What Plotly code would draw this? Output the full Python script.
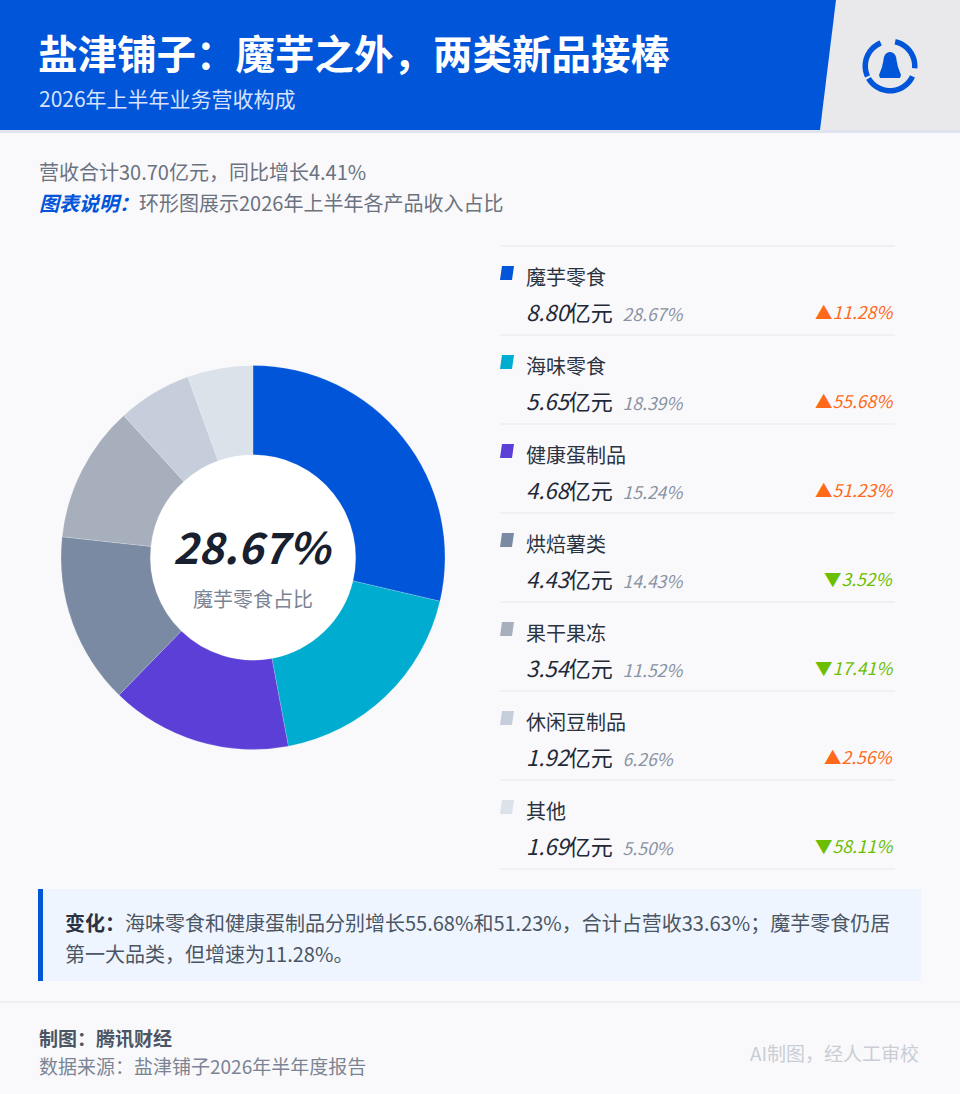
import numpy as np
import plotly.graph_objects as go

W, H = 960, 1094

categories = ["魔芋零食", "海味零食", "健康蛋制品", "烘焙薯类", "果干果冻", "休闲豆制品", "其他"]
revenue = [8.80, 5.65, 4.68, 4.43, 3.54, 1.92, 1.69]          # 亿元
share = [28.67, 18.39, 15.24, 14.43, 11.52, 6.26, 5.50]       # %
growth = [11.28, 55.68, 51.23, -3.52, -17.41, 2.56, -58.11]   # % YoY
colors = ["#0055d9", "#00acd0", "#5b3fd6", "#7a8aa3", "#a8afbc", "#c7cedb", "#dce2ea"]

title = "盐津铺子：魔芋之外，两类新品接棒"
subtitle = "2026年上半年业务营收构成"
summary = "营收合计30.70亿元，同比增长4.41%"
note_label = "图表说明："
note_text = "环形图展示2026年上半年各产品收入占比"
change_label = "变化："
change_line1 = "海味零食和健康蛋制品分别增长55.68%和51.23%，合计占营收33.63%；魔芋零食仍居"
change_line2 = "第一大品类，但增速为11.28%。"
credit = "制图：腾讯财经"
source = "数据来源：盐津铺子2026年半年度报告"
ai_note = "AI制图，经人工审校"

FONT = "Noto Sans CJK SC"


def X(px):
    return px / W


def Y(py):
    return 1 - py / H


def path(points):
    return "M" + " L".join(f"{X(a):.5f},{Y(b):.5f}" for a, b in points) + " Z"


shapes = []
annotations = []


def ann(text, x, y, size, color, xanchor="left", yanchor="middle", family=FONT):
    annotations.append(dict(text=text, x=X(x), y=Y(y), xref="paper", yref="paper",
                            xanchor=xanchor, yanchor=yanchor, showarrow=False,
                            font=dict(size=size, color=color, family=family)))


# header
shapes.append(dict(type="rect", x0=0, x1=1, y0=Y(130), y1=1, xref="paper", yref="paper",
                   fillcolor="#e9e9ec", line_width=0, layer="below"))
shapes.append(dict(type="path", path=path([(0, 0), (836, 0), (820, 130), (0, 130)]),
                   xref="paper", yref="paper", fillcolor="#0055d9", line_width=0, layer="below"))
shapes.append(dict(type="rect", x0=0, x1=1, y0=Y(133), y1=Y(130), xref="paper", yref="paper",
                   fillcolor="#dfe5f0", line_width=0, layer="below"))

# logo: three arcs + penguin
cx, cy = 890, 66


def arc(a0, a1, r0, r1):
    t = np.radians(np.linspace(a0, a1, 30))
    outer = [(cx + r1 * np.cos(v), cy - r1 * np.sin(v)) for v in t]
    inner = [(cx + r0 * np.cos(v), cy - r0 * np.sin(v)) for v in t[::-1]]
    return path(outer + inner)


for a0, a1 in [(112, 205), (78, -5), (-25, -150)]:
    shapes.append(dict(type="path", path=arc(a0, a1, 22, 27.5), xref="paper", yref="paper",
                       fillcolor="#0055d9", line_width=0))
peng = [(890 + 6.5 * np.cos(v), 60 - 8 * np.sin(v)) for v in np.radians(np.linspace(0, 180, 20))]
peng += [(882, 67), (879, 75), (880, 78), (900, 78), (901, 75), (898, 67)]
shapes.append(dict(type="path", path=path(peng), xref="paper", yref="paper",
                   fillcolor="#0055d9", line_width=0))

ann(f"<b>{title}</b>", 36, 51, 39.5, "#ffffff")
ann(subtitle, 37, 98, 21, "#d6e2ff")

ann(summary, 37, 171, 20, "#6b7280")
ann(f"<b><i><span style='color:#0055d9'>{note_label}</span></i></b>{note_text}", 37, 203, 20, "#6b7280")

# donut center white disc
pcx, pcy, R = 253, 557.5, 192
hole = 0.535
r_in = R * hole
shapes.append(dict(type="circle", x0=X(pcx - r_in - 2), x1=X(pcx + r_in + 2),
                   y0=Y(pcy + r_in + 2), y1=Y(pcy - r_in - 2), xref="paper", yref="paper",
                   fillcolor="#ffffff", line_width=0, layer="below"))

fig = go.Figure()
fig.add_trace(go.Pie(
    labels=categories, values=revenue, sort=False, direction="clockwise", rotation=0,
    hole=hole, marker=dict(colors=colors, line=dict(color="rgba(255,255,255,0.35)", width=0.5)),
    textinfo="none", hoverinfo="label+value+percent", showlegend=False,
    domain=dict(x=[X(pcx - R), X(pcx + R)], y=[Y(pcy + R), Y(pcy - R)]),
))

ann(f"<b><i>{share[0]:.2f}%</i></b>", pcx, 545, 43, "#182030", xanchor="center")
ann(f"{categories[0]}占比", pcx, 598, 20, "#7b8494", xanchor="center")

# legend list
row_h = 89
top = 246
for i in range(len(categories) + 1):
    yy = top + row_h * i
    shapes.append(dict(type="line", x0=X(500), x1=X(895), y0=Y(yy), y1=Y(yy),
                       xref="paper", yref="paper", line=dict(color="#e4e7ec", width=1)))
for i, name in enumerate(categories):
    y0 = top + row_h * i
    shapes.append(dict(type="path",
                       path=path([(502, y0 + 20), (514, y0 + 20), (512, y0 + 34), (500, y0 + 34)]),
                       xref="paper", yref="paper", fillcolor=colors[i], line_width=0))
    ann(name, 524, y0 + 30, 20, "#2b3340")
    ann(f"<i>{revenue[i]:.2f}</i>亿元  <span style='font-size:17.5px;color:#8a93a3'><i>{share[i]:.2f}%</i></span>",
        524, y0 + 65, 22, "#1f2937")
    g = growth[i]
    arrow, gc = ("▲", "#ff6a1a") if g >= 0 else ("▼", "#6cbf00")
    ann(f"{arrow}<i>{abs(g):.2f}%</i>", 896, y0 + 65, 17.5, gc, xanchor="right")

# change box
shapes.append(dict(type="rect", x0=X(38), x1=X(921), y0=Y(981), y1=Y(889), xref="paper", yref="paper",
                   fillcolor="#eef5ff", line_width=0, layer="below"))
shapes.append(dict(type="rect", x0=X(38), x1=X(43), y0=Y(981), y1=Y(889), xref="paper", yref="paper",
                   fillcolor="#0055d9", line_width=0, layer="below"))
ann(f"<b><span style='color:#2b3340'>{change_label}</span></b>{change_line1}", 63, 922, 20, "#4b5563")
ann(change_line2, 63, 953, 20, "#4b5563")

# footer
shapes.append(dict(type="line", x0=0, x1=1, y0=Y(1002), y1=Y(1002), xref="paper", yref="paper",
                   line=dict(color="#e3e5e9", width=1)))
ann(f"<b>{credit}</b>", 37, 1037, 19, "#4b5563")
ann(source, 37, 1065, 19, "#7b8494")
ann(ai_note, 921, 1052, 19, "#c9cdd5", xanchor="right")

fig.update_layout(
    width=W, height=H, margin=dict(l=0, r=0, t=0, b=0),
    paper_bgcolor="#f9f9fb", plot_bgcolor="#f9f9fb",
    font=dict(family=FONT),
    shapes=shapes, annotations=annotations,
)
fig.write_html("out.html", config={"displayModeBar": False},
               post_script="document.body.style.margin='0';document.body.style.overflow='hidden';")
